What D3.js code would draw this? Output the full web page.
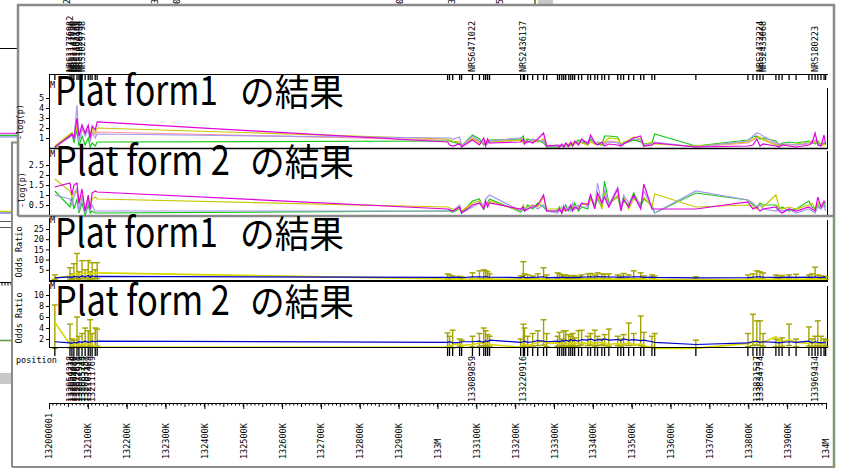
<!DOCTYPE html>
<html>
<head>
<meta charset="utf-8">
<script src="https://cdn.jsdelivr.net/npm/d3@7"></script>
<style>
  body { margin: 0; background: #fff; }
  svg { display: block; }
  .small { font-family: "DejaVu Sans Mono", monospace; font-size: 8.5px; fill: #000; }
  .title { font-family: "Noto Sans CJK JP", sans-serif; fill: #000; }
</style>
</head>
<body>
<div id="chart"></div>
<script>
// marker positions (kb), left cluster then right cluster
var markerKb = [132015,132054,132059,132064,132072,132077,132085,132093,132101,132106,132111,132119,132124,
  133026,133031,133039,133057,133062, 133090,133108,133119,133124,133129,133134,
  133214,133221,133224,133232, 133245,133258,133273,133281,
  133309,133314,133320,133325,133330,133338,133343,133348,133353,133363,133371,
  133387,133394,133405,133412,133423,133430,133441, 133464,133472,133479,133492,133505,
  133523,133531,133552,133559, 133665, 133799,133812,133822,133830,133838,
  133871,133879,133887,133905,133923, 133956,133964,133972,133979,133987,133995,133999];

// Platform1 -log(p)
var mag1 = [0.1,1.2,1.4,1.0,3.0,1.2,2.3,1.5,2.3,1.0,2.2,1.8,2.6,
  0.6,0.3,0.2,0.4,0.1, 0.8,0.3,1.0,0.2,0.9,0.5, 0.6,0.9,0.4,0.7, 0.5,0.9,1.5,0.2,
  0.3,0.1,0.4,0.1,0.5,0.2,0.6,0.2,0.7,0.3,0.9, 0.4,1.3,0.5,0.3,0.6,0.2,0.4, 0.3,0.2,0.4,0.7,1.0,
  1.2,0.2,0.3,0.5, 0.1, 0.2,0.3,0.9,0.2,0.4, 0.2,0.1,0.3,0.2,0.1, 0.3,0.5,1.5,0.3,0.2,1.3,0.4];
var yel1 = [0.2,1.4,1.5,1.2,2.0,1.0,1.8,1.6,1.9,1.4,2.0,1.5,2.0,
  0.9,0.8,0.7,0.6,0.3, 1.0,0.6,0.4,0.7,0.5,0.6, 0.8,0.5,0.9,0.6, 0.8,0.6,0.9,0.3,
  0.2,0.2,0.2,0.3,0.2,0.4,0.3,0.5,0.4,0.6,0.5, 0.3,0.6,0.4,0.5,0.4,0.6,1.0, 0.9,0.4,0.6,0.8,1.1,
  0.9,0.3,0.6,0.4, 0.2, 0.6,0.9,1.0,1.1,0.8, 0.3,0.2,0.4,0.3,0.4, 0.6,0.7,0.5,0.6,0.4,0.3,0.5];
var grn1 = [0.0,1.3,1.5,0.5,1.8,0.2,1.2,0.3,1.0,0.1,0.5,0.2,0.6,
  0.7,0.7,0.6,0.4,0.2, 1.3,0.9,0.3,0.5,0.6,0.8, 0.9,1.2,0.6,0.9, 0.7,0.8,0.5,0.1,
  0.1,0.3,0.2,0.2,0.3,0.1,0.4,0.2,0.5,0.8,0.6, 0.5,0.8,0.6,0.4,0.3,1.2,1.2, 1.1,0.3,0.5,0.6,0.8,
  0.6,0.4,0.5,1.4, 0.2, 0.8,1.1,1.2,0.9,1.0, 0.7,0.3,0.5,0.6,0.5, 0.7,0.6,0.4,0.7,0.3,0.5,0.4];
var pur1 = [0.1,1.1,1.3,0.8,4.3,0.6,2.0,1.2,1.8,0.6,1.5,1.0,1.4,
  1.0,1.0,0.9,1.1,0.2, 1.2,0.7,0.5,0.6,0.4,0.7, 1.0,0.7,0.8,0.5, 0.9,0.7,0.7,0.2,
  0.2,0.1,0.3,0.2,0.2,0.3,0.5,0.3,0.6,0.5,0.7, 0.6,1.0,0.5,0.6,0.5,0.4,0.6, 0.5,0.3,0.5,0.7,0.9,
  0.8,0.3,0.4,0.6, 0.1, 0.7,1.2,1.5,1.4,1.2, 0.5,0.4,0.4,0.4,0.3, 0.5,0.6,0.8,0.5,0.3,0.6,0.5];
var pnk1 = [0.1,1.2,1.3,0.9,2.5,1.0,2.0,1.4,1.9,1.2,1.7,1.3,1.6,
  0.8,0.7,0.6,0.5,0.2, 0.9,0.5,0.6,0.4,0.5,0.6, 0.8,0.6,0.7,0.6, 0.7,0.6,0.8,0.2,
  0.1,0.2,0.3,0.1,0.3,0.2,0.4,0.3,0.5,0.4,0.6, 0.3,0.9,0.4,0.4,0.3,0.5,0.7, 0.6,0.2,0.4,0.6,0.8,
  0.7,0.2,0.3,0.5, 0.1, 0.5,0.8,1.1,1.0,0.9, 0.4,0.2,0.3,0.3,0.3, 0.4,0.5,0.6,0.4,0.2,0.4,0.3];

// Platform 2 -log(p)
var mag2 = [1.4,1.6,1.0,1.5,1.6,0.6,1.3,0.2,1.0,0.3,1.1,1.2,1.15,
  0.3,0.25,0.2,0.4,0.1, 0.5,0.6,0.3,0.7,0.4,0.6, 0.3,0.4,0.2,0.3, 0.4,0.5,1.0,0.2,
  0.2,0.3,0.1,0.4,0.2,0.3,0.5,0.2,0.4,0.3,0.6, 0.5,1.0,0.3,1.1,0.6,0.9,0.4, 1.3,0.2,0.8,0.4,1.0,
  0.3,1.55,0.3,0.3, 0.3, 0.65,0.3,0.4,0.2,0.3, 0.4,0.2,0.1,0.3,0.2, 0.4,0.3,0.2,0.9,0.4,0.7,0.6];
var yel2 = [1.8,1.2,0.9,1.1,1.3,0.5,1.0,0.2,0.9,0.3,0.8,0.9,0.8,
  0.4,0.35,0.3,0.3,0.2, 0.6,0.7,0.4,0.5,0.5,0.7, 0.2,0.5,0.3,0.4, 0.5,0.4,0.9,0.3,
  0.3,0.2,0.4,0.2,0.3,0.4,0.2,0.5,0.3,0.4,0.5, 0.6,0.8,0.4,1.0,0.3,1.1,0.5, 1.0,0.4,0.9,0.3,0.8,
  0.6,0.9,0.4,1.05, 0.4, 0.5,0.4,0.3,0.5,0.4, 1.0,0.4,0.3,0.4,0.3, 0.5,0.6,0.3,0.6,0.5,0.4,0.5];
var grn2 = [1.2,0.4,0.9,0.3,0.8,0.1,0.6,0.0,0.5,0.1,0.2,0.1,0.1,
  0.2,0.2,0.15,0.3,0.1, 0.7,0.8,0.3,0.5,0.6,0.8, 0.15,0.3,0.2,0.5, 0.3,0.6,0.4,0.2,
  0.2,0.4,0.1,0.3,0.5,0.2,0.4,0.3,0.6,0.2,0.4, 0.3,0.9,0.5,0.8,0.4,1.7,0.6, 0.9,0.3,0.7,0.5,1.1,
  0.4,0.8,0.5,0.1, 1.1, 0.75,0.5,0.4,0.6,0.5, 0.5,0.3,0.4,0.2,0.3, 0.7,0.4,0.3,0.5,0.3,0.6,0.4];
var pur2 = [1.0,0.8,0.5,0.9,1.3,0.2,0.9,0.1,0.7,0.2,0.5,0.2,0.2,
  0.2,0.3,0.2,0.5,0.1, 0.4,0.6,0.5,0.8,0.9,1.0, 0.2,0.4,0.3,0.3, 0.5,0.3,0.5,0.2,
  0.1,0.3,0.2,0.5,0.3,0.4,0.2,0.6,0.3,0.5,0.4, 0.4,1.0,0.4,1.6,0.5,1.3,0.5, 1.4,0.3,1.0,0.6,0.9,
  0.5,1.2,0.4,0.1, 1.2, 0.75,0.6,0.4,0.5,0.3, 0.2,0.3,0.2,0.3,0.1, 0.3,0.2,0.1,0.4,0.3,0.5,0.2];

// Platform1 odds ratio
var blue3 = [1.0,1.5,1.2,1.8,1.6,1.3,2.0,1.5,2.2,1.4,2.0,1.6,1.8,
  1.3,1.2,1.4,1.3,1.1, 1.5,1.6,1.4,1.7,1.5,1.4, 1.2,1.6,1.3,1.2, 1.3,1.4,1.6,1.2,
  1.3,1.2,1.4,1.3,1.2,1.3,1.1,1.2,1.3,1.2,1.4, 1.5,1.6,1.4,1.7,1.5,1.6,1.5, 1.4,1.3,1.5,1.4,1.6,
  1.5,1.3,1.4,1.3, 1.0, 1.2,1.4,1.6,1.5,1.4, 1.3,1.2,1.3,1.4,1.3, 1.4,1.3,1.5,1.3,1.2,1.4,1.3];
var yel3 = [1.0,2.0,2.5,3.0,3.5,2.5,3.0,3.5,3.0,3.5,3.0,3.5,3.5,
  0.5,0.5,0.4,0.5,0.4, 0.6,0.5,0.4,0.5,0.4,0.5, 0.3,0.5,0.4,0.3, 0.4,0.5,0.6,0.3,
  0.4,0.3,0.5,0.4,0.3,0.4,0.3,0.4,0.5,0.4,0.5, 0.4,0.5,0.4,0.6,0.5,0.4,0.5, 0.4,0.3,0.4,0.5,0.4,
  0.5,0.3,0.4,0.3, 0.2, 0.3,0.4,0.5,0.4,0.3, 0.4,0.3,0.4,0.3,0.4, 0.5,0.4,0.5,0.4,0.3,0.4,0.4];
var lo3 = [0.4,0.5,0.3,0.8,0.6,0.4,0.9,0.5,1.0,0.4,0.8,0.5,0.7,
  0.5,0.4,0.6,0.5,0.4, 0.6,0.7,0.5,0.8,0.6,0.5, 0.4,0.7,0.5,0.4, 0.5,0.6,0.7,0.4,
  0.5,0.4,0.6,0.5,0.4,0.5,0.4,0.5,0.5,0.4,0.6, 0.6,0.7,0.5,0.8,0.6,0.7,0.6, 0.5,0.4,0.6,0.5,0.7,
  0.6,0.4,0.5,0.4, 0.3, 0.4,0.5,0.7,0.6,0.5, 0.5,0.4,0.5,0.5,0.4, 0.5,0.4,0.6,0.5,0.4,0.5,0.4];
var hi3 = [2.5,6.0,3.0,8.0,13.0,4.0,9.5,5.0,9.5,4.0,8.5,5.0,8.5,
  3.0,2.5,2.0,1.8,1.6, 3.5,4.5,5.0,4.5,4.0,3.0, 2.0,9.0,3.0,2.5, 2.0,3.0,6.0,2.5,
  3.5,3.0,2.5,2.0,2.5,2.0,1.8,2.2,2.0,1.8,2.5, 3.0,3.2,2.5,3.5,3.0,2.8,3.0, 2.5,2.0,3.2,2.5,4.5,
  3.5,2.0,2.5,2.0, 1.6, 2.5,3.0,4.5,4.0,3.5, 2.5,2.0,2.2,2.5,2.8, 2.5,3.0,6.3,2.5,2.0,1.8,1.6];

// Platform 2 odds ratio
var blue4 = [1.5,1.3,1.2,1.4,1.3,1.5,1.4,1.6,1.4,1.5,1.6,1.5,1.6,
  1.4,1.5,1.3,1.4,1.5, 1.5,1.6,1.4,1.7,1.5,1.8, 1.4,1.5,1.6,1.4, 1.5,1.7,1.6,1.5,
  1.6,1.5,1.7,1.6,1.8,1.6,1.9,1.7,1.8,1.6,1.9, 1.8,2.0,1.7,1.9,1.8,2.0,1.8, 1.9,1.7,2.0,1.8,1.9,
  1.7,1.8,1.5,1.4, 1.0, 1.3,1.5,1.6,1.4,1.5, 1.4,1.3,1.4,1.5,1.4, 1.6,1.3,1.5,1.4,1.3,1.4,1.3];
var yel4 = [5.0,1.0,0.8,1.2,1.0,0.9,1.1,1.0,1.2,1.0,0.9,0.7,0.5,
  0.5,0.7,0.9,1.2,0.8, 1.0,1.3,1.1,1.5,1.2,1.0, 0.5,1.2,1.0,0.8, 1.1,1.4,1.6,1.2,
  1.3,1.1,1.4,1.2,1.0,1.3,1.1,1.2,1.4,1.1,1.3, 1.2,1.5,1.1,1.4,1.3,1.2,1.0, 1.2,0.9,1.1,1.3,1.0,
  1.1,0.8,0.4,0.3, 0.3, 1.2,1.5,1.3,1.6,1.4, 2.4,1.8,1.5,1.9,1.4, 1.2,1.4,1.1,1.3,1.0,1.2,1.1];
var lo4 = [0.3,0.4,0.5,0.6,0.5,0.4,0.7,0.5,0.6,0.7,0.5,0.6,0.7,
  0.5,0.6,0.4,0.7,0.5, 0.6,0.7,0.8,0.6,0.5,0.7, 0.5,0.8,0.7,0.6, 0.7,0.8,0.9,0.6,
  0.7,0.6,0.8,0.7,0.6,0.8,0.7,0.6,0.8,0.7,0.9, 0.8,0.9,0.7,0.8,0.9,0.8,0.7, 0.8,0.7,0.9,0.8,0.9,
  0.8,0.6,0.5,0.4, 0.4, 0.6,0.8,0.9,0.8,0.7, 0.6,0.5,0.7,0.8,0.6, 0.7,0.6,0.7,0.8,0.6,0.7,0.6];
var hi4 = [8.2,4.7,2.0,1.8,6.0,2.5,3.0,4.0,3.5,5.5,3.0,4.0,3.8,
  3.1,2.5,3.6,2.0,1.8, 2.5,3.0,4.0,3.5,2.8,2.5, 2.0,4.7,4.0,2.5, 3.0,3.5,5.5,3.0,
  2.5,3.2,2.0,3.5,3.5,2.8,2.5,3.0,2.2,3.5,3.6, 2.5,3.0,3.6,2.5,2.0,2.8,3.8, 2.5,2.0,2.8,4.9,3.0,
  6.2,3.2,2.5,3.0, 1.8, 3.0,6.5,5.3,5.3,3.0, 2.0,1.8,2.2,4.7,2.0, 4.2,2.0,2.5,5.3,2.5,2.0,1.8];

// marker names (top) and marker positions (bottom)
var nameLabels = ["NRS11776982","NRS1141850","NRS1147780","NRS1102149","NRS1020996","NRS1029798",
  "NRS6471022","NRS2436137","NRS2472224","NRS2433068","NRS180223"];
var nameKb = [132054,132059,132064,132072,132077,132085,133090,133221,133830,133838,133972];
var posLabels = ["132054218","132059374","132064080","132072631","132077910","132085244","132093157",
  "132101409","132111769","133089859","133220916","133821537","133834754","133969434"];
var posKb = [132054,132059,132064,132072,132077,132085,132093,132101,132111,133090,133221,133822,133830,133972];

// position axis
var axisKb = [132000,132100,132200,132300,132400,132500,132600,132700,132800,132900,
  133000,133100,133200,133300,133400,133500,133600,133700,133800,133900,134000];
var axisLabels = ["132000001","132100K","132200K","132300K","132400K","132500K","132600K","132700K",
  "132800K","132900K","133M","133100K","133200K","133300K","133400K","133500K","133600K","133700K",
  "133800K","133900K","134M"];

var titleLatin = ["Plat form1", "Plat form 2", "Plat form1", "Plat form 2"];
var titleJa = "の結果";

var svg = d3.select("#chart").append("svg")
    .attr("width", 846)
    .attr("height", 468);

var x = d3.scaleLinear().domain([132000, 134000]).range([49, 826]);

// bits of the windows lying underneath
var bg = svg.append("g");
function seg(x1, y1, x2, y2, c, w) {
    bg.append("line").attr("x1", x1).attr("y1", y1).attr("x2", x2).attr("y2", y2)
      .attr("stroke", c).attr("stroke-width", w || 1);
}
seg(0, 48.5, 18, 48.5, "#000");
seg(0, 133.5, 17, 133.5, "#e040e0", 1.5);
seg(0, 135.5, 17, 135.5, "#30c030", 1.5);
seg(0, 137, 17, 137, "#8080f0");
seg(0, 211.5, 12, 211.5, "#d0d000", 1.5);
seg(0, 213, 12, 213, "#4040d0");
seg(0, 221.5, 12, 221.5, "#555");
seg(0, 227.5, 12, 227.5, "#555");
seg(0, 282.5, 12, 282.5, "#000");
[2, 5, 8, 11].forEach(function(t) { seg(t, 282.5, t, 285.5, "#000"); });
seg(0, 340.5, 12, 340.5, "#5a9a3a", 1.5);
bg.append("rect").attr("x", 0).attr("y", 373).attr("width", 12).attr("height", 11).attr("fill", "#c8c8c8");
bg.append("rect").attr("x", 538).attr("y", 0).attr("width", 15).attr("height", 4).attr("fill", "#c8c8c8");
seg(535, 0, 535, 4, "#6a9a4a", 2);
[[67, "2"], [155, "3"], [177, "0"], [400, "0"], [452, "3"], [500, "5"]].forEach(function(t) {
    bg.append("text").attr("class", "small")
      .attr("transform", "translate(" + t[0] + ",4) rotate(-90)")
      .attr("dy", "0.35em").text(t[1]);
});

// window frames
var frame = svg.append("g").attr("fill", "none");
frame.append("path").attr("d", "M12,467 V142.5 H18").attr("stroke", "#8a8a8a").attr("stroke-width", 2);
frame.append("path").attr("d", "M12,467 H834").attr("stroke", "#8a8a8a").attr("stroke-width", 2);
frame.append("path").attr("d", "M834,217 V468").attr("stroke", "#7f9a70").attr("stroke-width", 2.5);
frame.append("path").attr("d", "M18,216 V5 H834 V216 H18").attr("stroke", "#8a8a8a").attr("stroke-width", 2.5);

// panels
var panels = [
    { top: 74, bottom: 148, y: d3.scaleLinear().domain([0, 5]).range([148, 98]), ticks: [1, 2, 3, 4, 5],
      fmt: d3.format("d"), ylab: "-log(p)", labX: 20, labY: 122, base: 105, latinW: 163, jaX: 240, mY: 88,
      series: [[pnk1, "#ff9a9a"], [grn1, "#18c818"], [yel1, "#c8c800"], [pur1, "#a898f0"], [mag1, "#e000e0"]] },
    { top: 149, bottom: 215, y: d3.scaleLinear().domain([0, 2.5]).range([215, 165]), ticks: [0.5, 1, 1.5, 2, 2.5],
      fmt: d3.format(".1~f"), ylab: "-log(p)", labX: 22, labY: 190, base: 175, latinW: 175, jaX: 250, mY: 157,
      series: [[grn2, "#18c818"], [yel2, "#c8c800"], [pur2, "#a898f0"], [mag2, "#e000e0"]] },
    { top: 218, bottom: 281, y: d3.scaleLinear().domain([0, 25]).range([280, 229]), ticks: [5, 10, 15, 20, 25],
      fmt: d3.format("d"), ylab: "Odds Ratio", labX: 19, labY: 252, base: 247, latinW: 163, jaX: 240, mY: 223,
      blue: blue3, yel: yel3, lo: lo3, hi: hi3 },
    { top: 284, bottom: 347, y: d3.scaleLinear().domain([0, 10]).range([350, 295]), ticks: [2, 4, 6, 8, 10],
      fmt: d3.format("d"), ylab: "Odds Ratio", labX: 19, labY: 318, base: 315, latinW: 175, jaX: 250, mY: 289,
      blue: blue4, yel: yel4, lo: lo4, hi: hi4 }
];

panels.forEach(function(p, k) {
    var g = svg.append("g");
    var y = p.y;

    // y axis
    g.append("g")
        .attr("transform", "translate(49,0)")
        .call(d3.axisLeft(y).tickValues(p.ticks).tickFormat(p.fmt).tickSize(3).tickSizeOuter(0))
        .call(function(a) {
            a.select(".domain").remove();
            a.selectAll("line").attr("stroke", "#000");
            a.selectAll("text").attr("class", "small").attr("font-family", null).attr("font-size", null)
                .attr("x", -5);
        });
    g.append("line").attr("x1", 49.5).attr("x2", 49.5).attr("y1", p.top).attr("y2", p.bottom)
        .attr("stroke", "#000");
    g.append("line").attr("x1", 827.5).attr("x2", 827.5).attr("y1", p.top + (k == 0 ? 14 : 2)).attr("y2", p.bottom)
        .attr("stroke", "#000");
    g.append("text").attr("class", "small")
        .attr("transform", "translate(" + p.labX + "," + p.labY + ") rotate(-90)")
        .attr("text-anchor", "middle").attr("dy", "0.35em").text(p.ylab);
    g.append("text").attr("class", "small").attr("x", 50).attr("y", p.mY).text("M");

    var line = d3.line()
        .x(function(d, i) { return x(markerKb[i]); })
        .y(function(d) { return y(d); });

    if (p.series) {
        p.series.forEach(function(s) {
            g.append("path").datum(s[0]).attr("d", line)
                .attr("fill", "none").attr("stroke", s[1]).attr("stroke-width", 1.2);
        });
    } else {
        // error bars
        var bars = g.append("g").attr("stroke", "#a3a300").attr("stroke-width", 1.4);
        markerKb.forEach(function(kb, i) {
            var cx = x(kb);
            bars.append("line").attr("x1", cx).attr("x2", cx).attr("y1", y(p.lo[i])).attr("y2", y(p.hi[i]));
            bars.append("line").attr("x1", cx - 3).attr("x2", cx + 3).attr("y1", y(p.hi[i])).attr("y2", y(p.hi[i]));
            bars.append("line").attr("x1", cx - 3).attr("x2", cx + 3).attr("y1", y(p.lo[i])).attr("y2", y(p.lo[i]));
        });
        g.append("path").datum(p.yel).attr("d", line)
            .attr("fill", "none").attr("stroke", "#d8d800").attr("stroke-width", 1.6);
        g.append("path").datum(p.blue).attr("d", line)
            .attr("fill", "none").attr("stroke", "#0000c8").attr("stroke-width", 1.2);
    }
});

// panel baselines
svg.append("line").attr("x1", 49).attr("x2", 828).attr("y1", 148.5).attr("y2", 148.5).attr("stroke", "#000").attr("stroke-width", 1.5);
svg.append("line").attr("x1", 49).attr("x2", 828).attr("y1", 281).attr("y2", 281).attr("stroke", "#000").attr("stroke-width", 2);
svg.append("line").attr("x1", 49).attr("x2", 828).attr("y1", 74.5).attr("y2", 74.5).attr("stroke", "#000");

// marker strips (top and bottom)
[[74.5, 80], [347.5, 356]].forEach(function(s) {
    svg.append("g").selectAll("line").data(markerKb).enter().append("line")
        .attr("x1", function(d) { return x(d); }).attr("x2", function(d) { return x(d); })
        .attr("y1", s[0]).attr("y2", s[1])
        .attr("stroke", "#000").attr("stroke-width", 1.3);
});
svg.append("line").attr("x1", 49).attr("x2", 828).attr("y1", 347.5).attr("y2", 347.5).attr("stroke", "#000");

// marker names above the top strip
svg.append("g").selectAll("text").data(nameLabels).enter().append("text")
    .attr("class", "small")
    .attr("transform", function(d, i) { return "translate(" + x(nameKb[i]) + ",72) rotate(-90)"; })
    .attr("dy", "0.35em").text(function(d) { return d; });

// marker positions below the bottom strip
svg.append("text").attr("class", "small").attr("x", 16).attr("y", 363).text("position");
svg.append("g").selectAll("text").data(posLabels).enter().append("text")
    .attr("class", "small")
    .attr("transform", function(d, i) { return "translate(" + x(posKb[i]) + ",402) rotate(-90)"; })
    .attr("dy", "0.35em").text(function(d) { return d; });

// position axis with minor ticks
var axisG = svg.append("g").attr("transform", "translate(0,403)");
axisG.call(d3.axisBottom(x).tickValues(axisKb).tickFormat(function(d, i) { return axisLabels[i]; })
        .tickSize(6).tickSizeOuter(0))
    .call(function(a) {
        a.select(".domain").attr("stroke", "#000");
        a.selectAll("text").attr("class", "small").attr("font-family", null).attr("font-size", null)
            .attr("text-anchor", "start").attr("y", 0).attr("dy", "0.35em")
            .attr("transform", "translate(0,56) rotate(-90)");
    });
axisG.selectAll(".minor").data(d3.range(132010, 134000, 10)).enter().append("line")
    .attr("x1", function(d) { return x(d); }).attr("x2", function(d) { return x(d); })
    .attr("y1", 0).attr("y2", function(d) { return d % 50 == 0 ? 4 : 2.5; })
    .attr("stroke", "#000");

// big titles over each panel
panels.forEach(function(p, k) {
    svg.append("text").attr("class", "title")
        .attr("x", 55).attr("y", p.base).attr("font-size", 40)
        .attr("textLength", p.latinW).attr("lengthAdjust", "spacingAndGlyphs")
        .text(titleLatin[k]);
    svg.append("text").attr("class", "title")
        .attr("x", p.jaX).attr("y", p.base + 1).attr("font-size", 37)
        .attr("textLength", 104).attr("lengthAdjust", "spacingAndGlyphs")
        .text(titleJa);
});
</script>
</body>
</html>
